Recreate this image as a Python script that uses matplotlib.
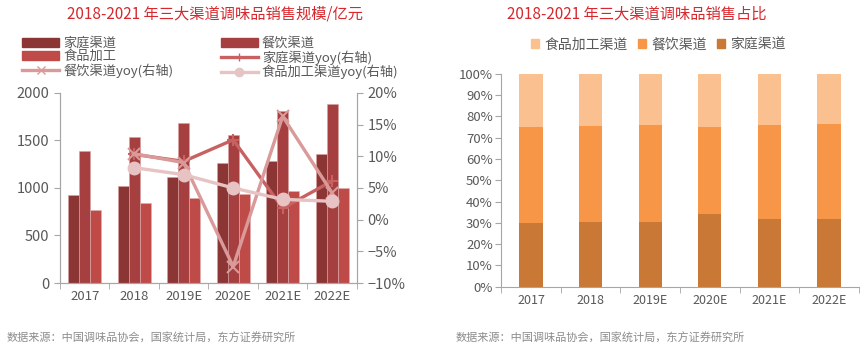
import numpy as np
import matplotlib

matplotlib.use("Agg")

import matplotlib.pyplot as plt
from matplotlib.lines import Line2D
from matplotlib.patches import Patch

plt.rcParams["font.family"]=["Noto Sans CJK SC","DejaVu Sans"]

years=["2017","2018","2019E","2020E","2021E","2022E"]

home=[930,1025,1116,1260,1281,1361]
catering=[1393,1533,1681,1561,1807,1884]
food=[772,839,898,940,972,996]

home_yoy=[10.3,9.2,12.6,1.8,6.1]
catering_yoy=[10.4,9.0,-7.4,16.3,4.2]
food_yoy=[8.2,7.1,5.0,3.2,2.9]

home_share=[30.1,30.4,30.4,34.0,31.7,32.0]
catering_share=[44.8,45.0,45.3,40.9,44.3,44.5]
food_share=[25.1,24.6,24.3,25.1,24.0,23.5]

GREY="#595959"
SPINE="#a6a6a6"
TITLE_RED="#d7282d"

fig=plt.figure(figsize=(8.64,3.52),dpi=100)

# ---------- left chart ----------
ax=fig.add_axes([0.0694,0.196,0.3437,0.540])

x=np.arange(len(years))
w=0.22

ax.bar(x-w,home,w,color="#8c3535",edgecolor="#d9a0a0",linewidth=0.4)
ax.bar(x,catering,w,color="#a64040",edgecolor="#d9a0a0",linewidth=0.4)
ax.bar(x+w,food,w,color="#be4b48",edgecolor="#e0b0b0",linewidth=0.4)

ax.set_xlim(-0.5,5.5)
ax.set_ylim(0,2000)
ax.set_yticks([0,500,1000,1500,2000])
ax.set_xticks(x)
ax.set_xticklabels(years)
ax.set_xticks(np.arange(-0.5,6,1),minor=True)

ax2=ax.twinx()

ax2.plot(x[1:],home_yoy,color="#c86262",linewidth=2.4,marker="+",markersize=8,markeredgewidth=1.5)
ax2.plot(x[1:],catering_yoy,color="#d99a99",linewidth=2.4,marker="x",markersize=8,markeredgewidth=1.5)
ax2.plot(x[1:],food_yoy,color="#e8c3c3",linewidth=2.4,marker="o",markersize=9)

ax2.set_ylim(-10,20)
ax2.set_yticks([-10,-5,0,5,10,15,20])
ax2.set_yticklabels(["−10%","−5%","0%","5%","10%","15%","20%"])

for a in (ax,ax2):
    a.spines["top"].set_visible(False)

    for s in ("left","right","bottom"):
        a.spines[s].set_color(SPINE)

ax.tick_params(axis="x",which="major",length=0,labelsize=9.5,colors=GREY,pad=5)
ax.tick_params(axis="x",which="minor",length=4,color=SPINE)
ax.tick_params(axis="y",length=4,color=SPINE,labelsize=10.5,labelcolor=GREY)
ax2.tick_params(axis="y",length=4,color=SPINE,labelsize=10.5,labelcolor=GREY)

fig.text(0.249,0.96,"2018-2021 年三大渠道调味品销售规模/亿元",color=TITLE_RED,fontsize=11,ha="center",va="center")

handles=[
    Patch(color="#8c3535"),
    Patch(color="#be4b48"),
    Line2D([],[],color="#d99a99",linewidth=2.4,marker="x",markersize=6),
    Patch(color="#a64040"),
    Line2D([],[],color="#c86262",linewidth=2.4,marker="+",markersize=6),
    Line2D([],[],color="#e8c3c3",linewidth=2.4,marker="o",markersize=6),
]

labels=["家庭渠道","食品加工","餐饮渠道yoy(右轴)","餐饮渠道","家庭渠道yoy(右轴)","食品加工渠道yoy(右轴)"]

fig.legend(
    handles,
    labels,
    ncol=2,
    loc="center left",
    bbox_to_anchor=(0.012,0.835),
    frameon=False,
    fontsize=9.5,
    labelcolor=GREY,
    handlelength=2.8,
    handleheight=0.6,
    handletextpad=0.3,
    labelspacing=0.0,
    columnspacing=3.6,
)

# ---------- right chart ----------
bx=fig.add_axes([0.580,0.1855,0.414,0.605])

bw=0.39

bx.bar(x,home_share,bw,color="#c97935")
bx.bar(x,catering_share,bw,bottom=home_share,color="#f79646")
bx.bar(x,food_share,bw,bottom=np.add(home_share,catering_share),color="#fac090")

bx.set_xlim(-0.5,5.5)
bx.set_ylim(0,100)
bx.set_yticks(np.arange(0,101,10))
bx.set_yticklabels([f"{v}%" for v in range(0,101,10)])
bx.set_xticks(x)
bx.set_xticklabels(years)
bx.set_xticks(np.arange(-0.5,6,1),minor=True)

for s in ("top","right"):
    bx.spines[s].set_visible(False)

for s in ("left","bottom"):
    bx.spines[s].set_color(SPINE)

bx.tick_params(axis="x",which="major",length=0,labelsize=9,colors=GREY,pad=5)
bx.tick_params(axis="x",which="minor",length=4,color=SPINE)
bx.tick_params(axis="y",length=4,color=SPINE,labelsize=9.5,labelcolor=GREY,pad=2)

fig.text(0.737,0.96,"2018-2021 年三大渠道调味品销售占比",color=TITLE_RED,fontsize=11,ha="center",va="center")

fig.legend(
    [Patch(color="#fac090"),Patch(color="#f79646"),Patch(color="#c97935")],
    ["食品加工渠道","餐饮渠道","家庭渠道"],
    ncol=3,
    loc="center",
    bbox_to_anchor=(0.762,0.873),
    frameon=False,
    fontsize=10,
    labelcolor=GREY,
    handlelength=0.6,
    handleheight=0.6,
    handletextpad=0.4,
    columnspacing=0.7,
)

fig.text(0.008,0.04,"数据来源：中国调味品协会，国家统计局，东方证券研究所",color="#8c8c8c",fontsize=8,va="center")
fig.text(0.527,0.04,"数据来源：中国调味品协会，国家统计局，东方证券研究所",color="#8c8c8c",fontsize=8,va="center")

plt.savefig("out.png",dpi=100)

plt.close(fig)
